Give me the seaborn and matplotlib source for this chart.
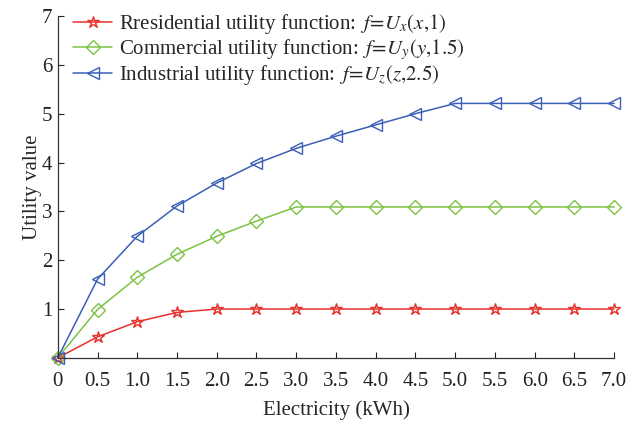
import matplotlib
matplotlib.use("Agg")
import matplotlib.pyplot as plt
import seaborn as sns
import pandas as pd
import numpy as np

# electricity consumption (kWh)
electricity = [0, 0.5, 1.0, 1.5, 2.0, 2.5, 3.0, 3.5, 4.0, 4.5, 5.0, 5.5, 6.0, 6.5, 7.0]

# utility values
residential = [0, 0.43, 0.74, 0.93, 1.0, 1.0, 1.0, 1.0, 1.0, 1.0, 1.0, 1.0, 1.0, 1.0, 1.0]
commercial = [0, 0.99, 1.65, 2.12, 2.49, 2.80, 3.09, 3.09, 3.09, 3.09, 3.09, 3.09, 3.09, 3.09, 3.09]
industrial = [0, 1.61, 2.49, 3.11, 3.58, 3.98, 4.29, 4.54, 4.77, 5.0, 5.21, 5.21, 5.21, 5.21, 5.21]

xtick_labels = ["0", "0.5", "1.0", "1.5", "2.0", "2.5", "3.0", "3.5", "4.0", "4.5",
                "5.0", "5.5", "6.0", "6.5", "7.0"]

sns.set_style("ticks")
plt.rcParams['font.family'] = ['Liberation Serif', 'DejaVu Serif']
plt.rcParams['mathtext.fontset'] = 'stix'

fig = plt.figure(figsize=(6.28, 4.21), dpi=100)
ax = fig.add_axes([0.092, 0.150, 0.886, 0.812])

series = [
    (residential, '#e8302a', '*', r'Rresidential utility function: $\,f\!=\!U_x(x{,}1)$', 9),
    (commercial, '#7cc243', 'D', r'Commercial utility function: $\,f\!=\!U_y(y{,}1.5)$', 7),
    (industrial, '#3b5fb8', '<', r'Industrial utility function: $\,f\!=\!U_z(z{,}2.5)$', 9),
]
for vals, color, marker, label, ms in series:
    sns.lineplot(x=electricity, y=vals, ax=ax, color=color, marker=marker,
                 markersize=ms, markerfacecolor='none', markeredgecolor=color,
                 markeredgewidth=1.0, linewidth=1.1, label=label, clip_on=False)

ax.set_xlim(0, 7)
ax.set_ylim(0, 7)
ax.set_xticks(electricity)
ax.set_xticklabels(xtick_labels)
ax.set_yticks([1, 2, 3, 4, 5, 6, 7])
ax.tick_params(direction='in', labelsize=15, length=4, width=0.8, colors='#222222')
ax.tick_params(axis='x', pad=10)
ax.tick_params(axis='y', pad=4)
for s in ['top', 'right']:
    ax.spines[s].set_visible(False)
for s in ['left', 'bottom']:
    ax.spines[s].set_color('#333333')
    ax.spines[s].set_linewidth(0.9)
ax.set_xlabel('Electricity (kWh)', fontsize=15, labelpad=7)
ax.set_ylabel('Utility value', fontsize=15, labelpad=0)

leg = ax.legend(loc='upper left', frameon=False, fontsize=15, handlelength=1.9,
                handletextpad=0.3, labelspacing=0.05, borderaxespad=0.0,
                bbox_to_anchor=(0.012, 1.035))

fig.savefig('out.png', dpi=100)
